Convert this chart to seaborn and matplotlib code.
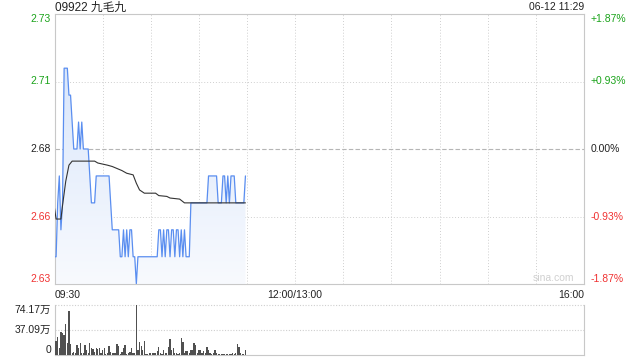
import numpy as np
import pandas as pd
import matplotlib
matplotlib.use("Agg")
import matplotlib.pyplot as plt
from matplotlib.colors import LinearSegmentedColormap
import seaborn as sns

# ---------------- data ----------------
title = "09922 九毛九"
stamp = "06-12 11:29"
prev_close = 2.68
pct_range = 0.0187

price = [
    2.64, 2.64, 2.66, 2.67, 2.65, 2.66, 2.71, 2.71, 2.71, 2.70,
    2.70, 2.69, 2.68, 2.68, 2.68, 2.69, 2.68, 2.69, 2.68, 2.68,
    2.68, 2.68, 2.67, 2.66, 2.66, 2.66, 2.67, 2.67, 2.67, 2.67,
    2.67, 2.67, 2.67, 2.67, 2.67, 2.66, 2.65, 2.65, 2.65, 2.65,
    2.65, 2.64, 2.64, 2.65, 2.64, 2.65, 2.64, 2.65, 2.65, 2.64,
    2.64, 2.63, 2.64, 2.64, 2.64, 2.64, 2.64, 2.64, 2.64, 2.64,
    2.64, 2.64, 2.64, 2.64, 2.64, 2.65, 2.65, 2.64, 2.65, 2.64,
    2.65, 2.65, 2.64, 2.65, 2.65, 2.64, 2.65, 2.65, 2.64, 2.65,
    2.64, 2.65, 2.64, 2.64, 2.64, 2.66, 2.66, 2.66, 2.66, 2.66,
    2.66, 2.66, 2.66, 2.66, 2.66, 2.66, 2.67, 2.67, 2.67, 2.67,
    2.67, 2.67, 2.66, 2.66, 2.66, 2.67, 2.67, 2.66, 2.67, 2.66,
    2.67, 2.67, 2.67, 2.66, 2.66, 2.66, 2.66, 2.66, 2.66, 2.67,
]

avg_minutes = [0, 1, 4, 5, 7, 9, 11, 25, 27, 33, 36, 42, 45, 49, 51, 53, 56,
               63, 65, 70, 72, 78, 81, 119]
avg_values = [2.658, 2.654, 2.654, 2.659, 2.668, 2.674, 2.6755, 2.6755, 2.6748,
              2.674, 2.6735, 2.672, 2.671, 2.6704, 2.6673, 2.6648, 2.6636,
              2.6636, 2.6627, 2.6624, 2.6618, 2.6614, 2.660, 2.660]

# volume in 万
volume = [
    12.0, 20.8, 26.2, 9.9, 34.1, 32.1, 29.7, 46.0, 18.3, 65.3,
    16.3, 3.5, 4.0, 2.5, 14.8, 9.9, 18.3, 2.5, 2.5, 14.8,
    7.4, 2.5, 18.3, 9.9, 8.9, 4.9, 9.9, 8.4, 9.9, 3.5,
    7.4, 9.9, 1.5, 3.5, 13.4, 4.9, 3.5, 3.5, 3.5, 16.3,
    13.4, 1.0, 4.9, 9.9, 14.8, 1.5, 2.5, 4.9, 9.9, 3.5,
    3.5, 74.17, 7.4, 19.8, 13.4, 7.4, 20.8, 1.0, 1.5, 2.5,
    3.5, 2.5, 3.5, 2.5, 6.4, 11.4, 2.5, 1.5, 7.4, 2.5,
    3.5, 11.4, 23.2, 7.4, 9.9, 2.5, 2.5, 1.5, 3.5, 24.7,
    18.8, 2.5, 5.9, 5.9, 3.5, 7.4, 7.4, 17.3, 14.8, 3.5,
    7.4, 7.4, 2.5, 6.4, 2.5, 12.4, 7.4, 2.5, 1.5, 2.5,
    7.4, 2.5, 1.5, 2.0, 1.5, 1.5, 1.5, 1.5, 1.0, 1.5,
    1.5, 2.5, 1.5, 3.5, 16.3, 12.4, 2.5, 1.5, 1.5, 7.4,
]

price_labels = ["2.63", "2.66", "2.68", "2.71", "2.73"]
pct_labels = ["-1.87%", "-0.93%", "0.00%", "+0.93%", "+1.87%"]
time_ticks = [0, 150, 330]
time_labels = ["09:30", "12:00/13:00", "16:00"]
vol_ticks = [0, 37.09, 74.17]
vol_labels = ["0", "37.09万", "74.17万"]
watermark = "sina.com"

# ---------------- style ----------------
sns.set_theme(style="white")
plt.rcParams['font.family'] = ['Liberation Sans', 'Noto Sans CJK SC', 'DejaVu Sans']

GREEN = "#1aa31a"
RED = "#f03232"
BLACK = "#222222"
BLUE = "#5a8ef0"
SPINE = "#c8c8c8"
GRID = "#cfcfcf"
FS = 7.5

W, H = 640, 360
fig = plt.figure(figsize=(6.4, 3.6), dpi=100)
L, R = 54.5, 584
ax = fig.add_axes([L / W, 1 - 284 / H, (R - L) / W, 270 / H])
axv = fig.add_axes([L / W, 1 - 355 / H, (R - L) / W, 50 / H])

n_total = 330
lo = prev_close * (1 - pct_range)
hi = prev_close * (1 + pct_range)
yt = list(np.linspace(lo, hi, 5))

df = pd.DataFrame({"m": np.arange(len(price)), "price": price, "vol": volume})
avg_df = pd.DataFrame({"m": avg_minutes, "avg": avg_values})

# gradient fill under price line
poly = ax.fill_between(df["m"], df["price"], lo, facecolor="none", lw=0)
grad = np.linspace(0, 1, 256).reshape(-1, 1)
cmap = LinearSegmentedColormap.from_list("g", ["#f8fafe", "#d3e2fa"])
im = ax.imshow(grad, cmap=cmap, aspect="auto", origin="lower",
               extent=[0, n_total, lo, hi], zorder=1, interpolation="bilinear")
im.set_clip_path(poly.get_paths()[0], transform=ax.transData)

sns.lineplot(data=df, x="m", y="price", ax=ax, color=BLUE, lw=0.9,
             estimator=None, sort=False, zorder=3)
sns.lineplot(data=avg_df, x="m", y="avg", ax=ax, color="#333333", lw=0.8,
             estimator=None, sort=False, zorder=4)

ax.set_xlim(0, n_total)
ax.set_ylim(lo, hi)
ax.set_xlabel("")
ax.set_ylabel("")

# grid
for x in range(30, n_total, 30):
    ax.axvline(x, color=GRID, lw=0.7, ls=(0, (1, 2)), zorder=0.5)
for i, y in enumerate(yt[1:-1]):
    if i == 1:
        ax.axhline(y, color="#b5b5b5", lw=0.8, ls=(0, (4, 2)), zorder=0.5)
    else:
        ax.axhline(y, color=GRID, lw=0.7, ls=(0, (1, 2)), zorder=0.5)

for s in ax.spines.values():
    s.set_color(SPINE)
    s.set_linewidth(0.8)

label_colors = [RED, RED, BLACK, GREEN, GREEN]
vas = ["bottom", "center", "center", "center", "top"]

ax.set_yticks(yt, price_labels)
ax.tick_params(axis="y", length=0, pad=2.5, labelsize=FS)
for lab, c, va in zip(ax.get_yticklabels(), label_colors, vas):
    lab.set_color(c)
    lab.set_va(va)

ax.set_xticks(time_ticks, time_labels)
ax.tick_params(axis="x", length=0, pad=4, labelsize=FS, labelcolor=BLACK)
for lab, ha in zip(ax.get_xticklabels(), ["left", "center", "right"]):
    lab.set_ha(ha)

ax2 = ax.twinx()
ax2.set_ylim(lo, hi)
ax2.set_yticks(yt, pct_labels)
ax2.tick_params(axis="y", length=0, pad=5, labelsize=FS)
for lab, c, va in zip(ax2.get_yticklabels(), label_colors, vas):
    lab.set_color(c)
    lab.set_va(va)
for s in ax2.spines.values():
    s.set_visible(False)
ax2.grid(False)

ax.text(0.982, 0.022, watermark, transform=ax.transAxes, ha="right", va="center",
        color="#d0d0d0", fontsize=FS, zorder=2)

fig.text(55 / W, 1 - 7.5 / H, title, ha="left", va="center", fontsize=8.5,
         color=BLACK)
fig.text(R / W, 1 - 7.5 / H, stamp, ha="right", va="center", fontsize=FS,
         color=BLACK)

# ---------------- volume ----------------
sns.barplot(data=df, x="m", y="vol", ax=axv, native_scale=True, color="#505050",
            saturation=1, width=0.8, errorbar=None, linewidth=0, zorder=3)
axv.set_xlim(0, n_total)
axv.set_ylim(0, 74.17)
axv.set_xlabel("")
axv.set_ylabel("")
axv.set_xticks([])
axv.set_yticks(vol_ticks, vol_labels)
axv.tick_params(axis="y", length=0, pad=2.5, labelsize=FS, labelcolor=BLACK)
for lab, va in zip(axv.get_yticklabels(), ["bottom", "center", "top"]):
    lab.set_va(va)
for y in vol_ticks[1:]:
    axv.axhline(y, color=GRID, lw=0.8, ls=(0, (1, 1.5)), zorder=0.5, clip_on=False)
for k, s in axv.spines.items():
    s.set_color(SPINE)
    s.set_linewidth(0.8)
axv.spines["top"].set_visible(False)

fig.savefig("out.png", dpi=100)
